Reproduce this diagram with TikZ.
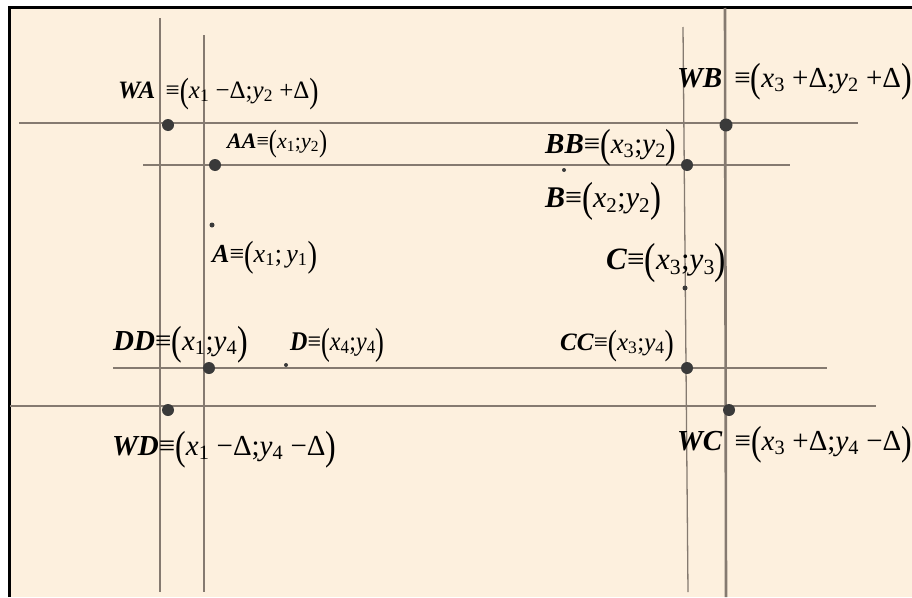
\documentclass[tikz,border=0pt]{standalone}
\usepackage{fontspec}
\setmainfont{Liberation Serif}
\usepackage{graphicx}
\definecolor{bg}{HTML}{FDF0DE}
\definecolor{ln}{HTML}{857A70}
\definecolor{dotc}{HTML}{3A3A3A}
\newcommand{\nm}[1]{\textbf{\textit{#1}}}
\newcommand{\vx}[1]{\textit{x}\textsubscript{#1}}
\newcommand{\vy}[1]{\textit{y}\textsubscript{#1}}
\newcommand{\lp}{\raisebox{-0.16em}{\scalebox{1.1}[1.4]{(}}}
\newcommand{\rp}{\raisebox{-0.16em}{\scalebox{1.1}[1.4]{)}}}
\begin{document}
\begin{tikzpicture}[x=1pt,y=-1pt,
  thickln/.style={draw=ln,line width=2.6pt},
  thinln/.style={draw=ln,line width=1.3pt},
  bigdot/.style={circle,fill=dotc,inner sep=0pt,minimum size=12pt},
  smalldot/.style={circle,fill=dotc,inner sep=0pt,minimum size=5pt},
  lbl/.style={anchor=base west,inner sep=0pt,font=\fontsize{#1}{#1}\selectfont},
  lbl/.default=26]
\useasboundingbox (0,0) rectangle (912,597);
\fill[white] (0,0) rectangle (912,597);
\fill[bg] (9,7) rectangle (912,597);
\draw[line width=3pt] (9,597) -- (9,7) -- (912,7);
\begin{scope}
\clip (0,0) rectangle (912,597);
% vertical lines
\draw[thickln] (160,18) -- (160,592);
\draw[thinln] (204,35) -- (204,592);
\draw[thinln] (683,27) -- (688,592);
\draw[thickln] (725,8) -- (726,597);
% horizontal lines
\draw[thickln] (19,123) -- (858,123);
\draw[thinln] (143,165) -- (790,165);
\draw[thinln] (113,368) -- (827,368);
\draw[thickln] (10,406) -- (876,406);
% points
\node[bigdot] (WA) at (168,125) {};
\node[bigdot] (AA) at (215,165) {};
\node[smalldot] (A) at (212,225) {};
\node[bigdot] (BB) at (687,165) {};
\node[smalldot,minimum size=4pt] (B) at (564,170) {};
\node[bigdot,minimum size=13pt] (WB) at (726,125) {};
\node[smalldot] (C) at (685,288) {};
\node[bigdot] (DD) at (209,368) {};
\node[smalldot,minimum size=4pt] (D) at (286,365) {};
\node[bigdot] (CC) at (687,368) {};
\node[bigdot] (WD) at (168,410) {};
\node[bigdot] (WC) at (729,410) {};
% labels
\node[lbl=25] (lWA) at (118,98) {\nm{WA} \,≡\lp\vx{1} −Δ;\vy{2} +Δ\rp};
\node[lbl=22] (lAA) at (227,148) {\nm{AA}≡\lp\vx{1};\vy{2}\rp};
\node[lbl=26] (lA) at (212,262) {\nm{A}≡\lp\vx{1};\,\vy{1}\rp};
\node[lbl=29] (lWB) at (677,87) {\nm{WB} \,≡\lp\vx{3} +Δ;\vy{2} +Δ\rp};
\node[lbl=29] (lBB) at (545,153) {\nm{BB}≡\lp\vx{3};\vy{2}\rp};
\node[lbl=30] (lB) at (545,207) {\nm{B}≡\lp\vx{2};\vy{2}\rp};
\node[lbl=31] (lC) at (606,269) {\nm{C}≡\lp\vx{3};\vy{3}\rp};
\node[lbl=29] (lDD) at (113,350) {\nm{DD}≡\lp\vx{1};\vy{4}\rp};
\node[lbl=27] (lD) at (290,350) {\scalebox{0.89}[1]{\nm{D}≡\lp\vx{4};\vy{4}\rp}};
\node[lbl=25] (lCC) at (560,350) {\nm{CC}≡\lp\vx{3};\vy{4}\rp};
\node[lbl=29] (lWD) at (112,455) {\nm{WD}≡\lp\vx{1} −Δ;\vy{4} −Δ\rp};
\node[lbl=29] (lWC) at (677,450) {\nm{WC} \,≡\lp\vx{3} +Δ;\vy{4} −Δ\rp};
\end{scope}
\end{tikzpicture}
\end{document}
